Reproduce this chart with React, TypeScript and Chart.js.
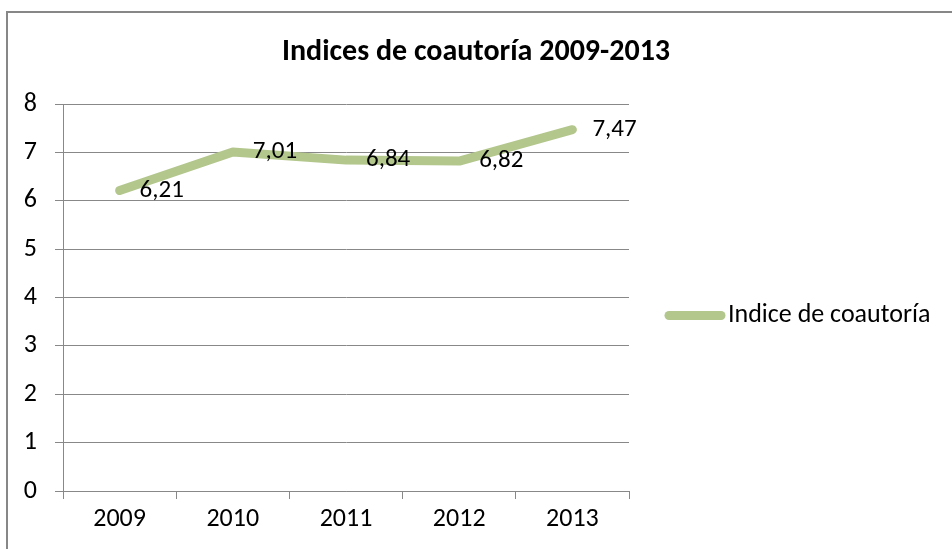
import React, { useEffect, useRef } from "react";
import { Chart, registerables } from "chart.js";

Chart.register(...registerables);

const categories: string[] = ["2009", "2010", "2011", "2012", "2013"];
const seriesName = "Indice de coautoría";
const seriesValues: number[] = [6.21, 7.01, 6.84, 6.82, 7.47];
const titleText = "Indices de coautoría 2009-2013";
const yTicks: number[] = [0, 1, 2, 3, 4, 5, 6, 7, 8];

const FONT = "Carlito, Lato, 'Noto Sans', sans-serif";
const LINE_COLOR = "#b3c78d";
const GRID_COLOR = "#888888";

const fmt = (v: number) => v.toFixed(2).replace(".", ",");

const decorPlugin = {
  id: "decor",
  beforeDraw(chart: any) {
    const ctx = chart.ctx;
    ctx.save();
    ctx.fillStyle = "#ffffff";
    ctx.fillRect(0, 0, chart.width, chart.height);
    ctx.strokeStyle = "#878787";
    ctx.lineWidth = 2;
    ctx.strokeRect(7, 12, chart.width + 20, chart.height + 20);
    ctx.restore();
  },
  afterDraw(chart: any) {
    const ctx = chart.ctx;
    const area = chart.chartArea;
    ctx.save();
    // title
    ctx.fillStyle = "#000000";
    ctx.font = `bold 30px ${FONT}`;
    ctx.textAlign = "center";
    ctx.textBaseline = "middle";
    ctx.fillText(titleText, chart.width / 2, 52);
    // legend
    const ly = (area.top + area.bottom) / 2 + 18;
    ctx.strokeStyle = LINE_COLOR;
    ctx.lineWidth = 9;
    ctx.lineCap = "round";
    ctx.beginPath();
    ctx.moveTo(area.right + 40, ly);
    ctx.lineTo(area.right + 92, ly);
    ctx.stroke();
    ctx.fillStyle = "#000000";
    ctx.font = `26px ${FONT}`;
    ctx.textAlign = "left";
    ctx.textBaseline = "middle";
    ctx.fillText(seriesName, area.right + 99, ly);
    // data labels
    ctx.font = `25px ${FONT}`;
    const meta = chart.getDatasetMeta(0);
    meta.data.forEach((pt: any, i: number) => {
      ctx.fillText(fmt(seriesValues[i]), pt.x + 20, pt.y);
    });
    ctx.restore();
  },
};

export default function App() {
  const ref = useRef<HTMLCanvasElement | null>(null);
  useEffect(() => {
    if (!ref.current) return;
    const chart = new Chart(ref.current, {
      type: "line",
      data: {
        labels: categories,
        datasets: [
          {
            label: seriesName,
            data: seriesValues,
            borderColor: LINE_COLOR,
            backgroundColor: LINE_COLOR,
            borderWidth: 9,
            borderCapStyle: "round",
            borderJoinStyle: "round",
            pointRadius: 0,
            pointHoverRadius: 0,
            tension: 0,
            fill: false,
          },
        ],
      },
      options: {
        responsive: false,
        animation: false,
        layout: { padding: { top: 104, right: 323, left: 0, bottom: 0 } },
        plugins: {
          legend: { display: false },
          title: { display: false },
          tooltip: { enabled: false },
        },
        scales: {
          x: {
            offset: true,
            grid: {
              offset: true,
              drawOnChartArea: false,
              drawTicks: true,
              tickLength: 8,
              color: GRID_COLOR,
            },
            border: { display: true, color: GRID_COLOR },
            ticks: {
              color: "#000000",
              font: { family: FONT, size: 26 },
              padding: 5,
              maxRotation: 0,
            },
            afterFit: (scale: any) => {
              scale.height = 58;
            },
          },
          y: {
            min: 0,
            max: 8,
            afterBuildTicks: (scale: any) => {
              scale.ticks = yTicks.map((v) => ({ value: v }));
            },
            grid: {
              color: GRID_COLOR,
              drawTicks: true,
              tickLength: 8,
            },
            border: { display: true, color: GRID_COLOR },
            ticks: {
              color: "#000000",
              font: { family: FONT, size: 26 },
              padding: 18,
              stepSize: 1,
            },
            afterFit: (scale: any) => {
              scale.width = 63;
            },
          },
        },
      },
      plugins: [decorPlugin],
    } as any);
    return () => chart.destroy();
  }, []);
  return (
    <div style={{ position: "fixed", left: 0, top: 0, width: 952, height: 549 }}>
      <canvas ref={ref} width={952} height={549} style={{ width: 952, height: 549, display: "block" }} />
    </div>
  );
}
